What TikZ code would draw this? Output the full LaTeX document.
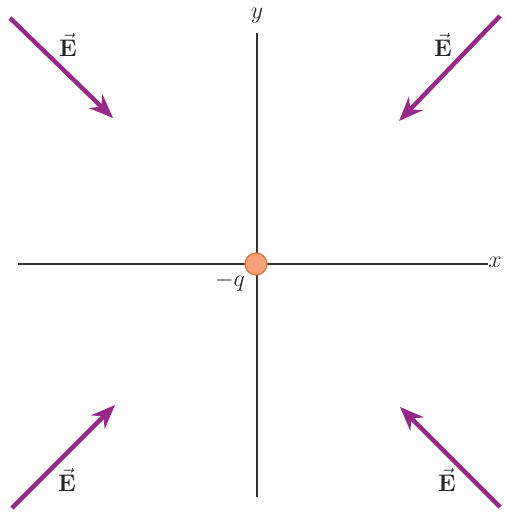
\documentclass[tikz,border=0pt]{standalone}
\usepackage{amsmath,tikz}
\usetikzlibrary{arrows.meta}
\definecolor{fieldpurple}{RGB}{150,40,135}
\definecolor{chargefill}{RGB}{246,162,118}
\definecolor{chargeline}{RGB}{232,112,62}
\tikzstyle{axis}=[line width=0.75pt, black!80]
\tikzstyle{efield}=[-{Stealth[length=12pt,width=9.5pt]}, line width=2.2pt, fieldpurple]
\tikzstyle{elabel}=[font=\fontsize{13}{15}\selectfont, text=black!85, inner sep=0pt]
\tikzstyle{axlabel}=[font=\fontsize{13}{15}\selectfont, text=black!85, inner sep=0pt]
\tikzstyle{charge}=[circle, fill=chargefill, draw=chargeline, line width=0.6pt, minimum size=11pt, inner sep=0pt]

\begin{document}
\begin{tikzpicture}[x=0.5pt,y=-0.5pt]
\useasboundingbox (0,0) rectangle (504,513);
% axes
\coordinate (xl) at (18,264);\coordinate (xr) at (488,264);
\coordinate (yb) at (257,497);\coordinate (yt) at (257,33);
\draw[axis](xl)--(xr);\draw[axis](yb)--(yt);
\node[axlabel] (xlab) at (495,262) {$x$};
\node[axlabel] (ylab) at (257,16) {$y$};
% charge
\node[charge] (Q) at (256,264) {};
\node[axlabel] (qlab) at (230,282) {$-q$};
% field arrows
\coordinate (tl0) at (10,18);\coordinate (tl1) at (113,118);
\coordinate (tr0) at (500,16);\coordinate (tr1) at (399,121);
\coordinate (bl0) at (12,508);\coordinate (bl1) at (115,405);
\coordinate (br0) at (500,507);\coordinate (br1) at (400,407);
\draw[efield](tl0)--(tl1);\draw[efield](tr0)--(tr1);
\draw[efield](bl0)--(bl1);\draw[efield](br0)--(br1);
\node[elabel] (Etl) at (68,45) {$\vec{\mathbf{E}}$};
\node[elabel] (Etr) at (443,45) {$\vec{\mathbf{E}}$};
\node[elabel] (Ebl) at (67,480) {$\vec{\mathbf{E}}$};
\node[elabel] (Ebr) at (447,480) {$\vec{\mathbf{E}}$};
\end{tikzpicture}
\end{document}
